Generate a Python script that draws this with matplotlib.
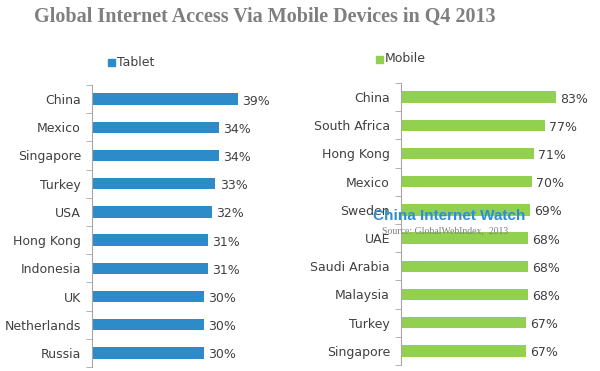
import matplotlib
matplotlib.use('Agg')
import matplotlib.pyplot as plt
import numpy as np

tablet_countries = ['China', 'Mexico', 'Singapore', 'Turkey', 'USA', 'Hong Kong',
                    'Indonesia', 'UK', 'Netherlands', 'Russia']
tablet_values = [39, 34, 34, 33, 32, 31, 31, 30, 30, 30]

mobile_countries = ['China', 'South Africa', 'Hong Kong', 'Mexico', 'Sweden', 'UAE',
                    'Saudi Arabia', 'Malaysia', 'Turkey', 'Singapore']
mobile_values = [83, 77, 71, 70, 69, 68, 68, 68, 67, 67]

W, H = 600, 371
fig = plt.figure(figsize=(W / 100, H / 100), dpi=100)
fig.patch.set_facecolor('white')

txt = '#404040'
spine_col = '#a6a6a6'


def panel(rect, cats, vals, color, xmax, name, leg_xy):
    ax = fig.add_axes(rect)
    y = np.arange(len(cats))
    ax.barh(y, vals, height=0.4, color=color)
    ax.set_xlim(0, xmax)
    ax.set_ylim(len(cats) - 0.5, -0.5)
    ax.set_yticks(y)
    ax.set_yticklabels(cats, fontsize=9, color=txt)
    ax.set_yticks(np.arange(-0.5, len(cats)), minor=True)
    ax.tick_params(axis='y', which='major', length=0, pad=8)
    ax.tick_params(axis='y', which='minor', length=4, color=spine_col, direction='out')
    ax.set_xticks([])
    for s in ['top', 'right', 'bottom']:
        ax.spines[s].set_visible(False)
    ax.spines['left'].set_color(spine_col)
    for yi, v in zip(y, vals):
        ax.annotate('%d%%' % v, (v, yi), xytext=(3, -1.5), textcoords='offset points',
                    va='center', ha='left', fontsize=9, color=txt)
    # legend
    lx, ly = leg_xy
    fig.patches.append(plt.Rectangle((lx / W, 1 - (ly + 4) / H), 7 / W, 7 / H,
                                     transform=fig.transFigure, color=color))
    fig.text((lx + 9) / W, 1 - ly / H, name, fontsize=9, color=txt, va='center', ha='left')
    return ax


panel([92 / W, 1 - 367 / H, 178 / W, 282 / H], tablet_countries, tablet_values,
      '#2e8bc9', 178 / 3.74, 'Tablet', (108, 62))
panel([401 / W, 1 - 365 / H, 189 / W, 282 / H], mobile_countries, mobile_values,
      '#92d050', 189 / 1.867, 'Mobile', (376, 59))

fig.text(265 / W, 1 - 17 / H, 'Global Internet Access Via Mobile Devices in Q4 2013',
         fontsize=14.5, fontweight='bold', family='Liberation Serif', color='#7f7f7f',
         ha='center', va='center')

fig.text(449 / W, 1 - 216 / H, 'China Internet Watch', fontsize=11, fontweight='bold',
         family='Liberation Sans', color='#2a8fd6', ha='center', va='center')
fig.text(445 / W, 1 - 231 / H, 'Source: GlobalWebIndex,  2013', fontsize=7,
         family='Liberation Serif', color='#808080', ha='center', va='center')

fig.savefig('out.png', dpi=100)
